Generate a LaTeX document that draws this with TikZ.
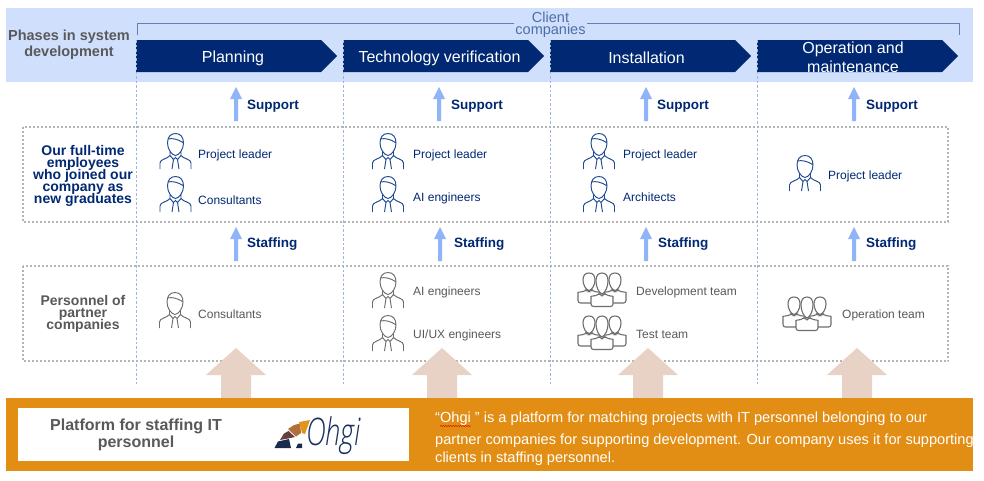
\documentclass[tikz,border=0pt]{standalone}
\usepackage{fontspec}
\setmainfont{Liberation Sans}
\newfontfamily\logofont{Open Sans Light}
\usetikzlibrary{decorations.pathmorphing}
\definecolor{band}{HTML}{D0E0FC}
\definecolor{navy}{HTML}{002873}
\definecolor{iconblue}{HTML}{1F4A94}
\definecolor{icongrey}{HTML}{6E6E6E}
\definecolor{textgrey}{HTML}{595959}
\definecolor{lightarrow}{HTML}{8FB4F7}
\definecolor{pinkarrow}{HTML}{E8D2C6}
\definecolor{orange}{HTML}{E28E14}
\definecolor{dash}{HTML}{9DB5DA}
\definecolor{dots}{HTML}{B4B4B4}
\definecolor{logonavy}{HTML}{1A2B50}
\definecolor{logodark}{HTML}{63403F}
\definecolor{logomid}{HTML}{B0703A}
\definecolor{logoor}{HTML}{E0951F}
\newcommand{\fs}[2]{\fontsize{#1}{#2}\selectfont\lineskiplimit=-20pt }
\tikzset{
  x=1pt,y=-1pt,
  phase/.style={fill=navy,draw=none},
  phasetext/.style={text=white,font=\fs{16}{19},align=center,inner sep=0},
  role/.style={anchor=west,inner sep=0,font=\fs{12}{14}},
  rolein/.style={role,text=navy},
  roleout/.style={role,text=textgrey},
  aid/.style={anchor=west,inner sep=0,text=navy,font=\bfseries\fs{13.5}{16}},
  desc/.style={inner sep=0,anchor=west,text=white,font=\fs{14.6}{16}},
  bigup/.style={fill=pinkarrow,draw=none},
  smallup/.style={fill=lightarrow,draw=none},
  rowbox/.style={draw=dots,line width=2pt,dash pattern=on 2pt off 2pt},
  colline/.style={draw=dash,line width=.7pt,dash pattern=on 2.5pt off 2pt},
  person/.pic={
    \draw[line width=.95pt,pic actions]
      (0,0.5) .. controls (-5,0.5) and (-8,4) .. (-8,10)
      .. controls (-8,16) and (-4,22) .. (0,22.5)
      .. controls (4,22) and (8,16) .. (8,10)
      .. controls (8,4) and (5,0.5) .. (0,0.5)
      (-7.5,6) .. controls (-3,5) and (2,6) .. (7.5,9.5)
      (-15.5,36) -- (-15.5,30) .. controls (-15.5,26) and (-8,26) .. (-5.5,22.5) -- (-5.5,19)
      (15.5,36) -- (15.5,30) .. controls (15.5,26) and (8,26) .. (5.5,22.5) -- (5.5,19)
      (-5.5,22.5) -- (-2,26.5) -- (0,24.5) -- (2,26.5) -- (5.5,22.5)
      (-2,26.5) -- (-3.5,36) (2,26.5) -- (3.5,36);
  },
  crew/.pic={
    \begin{scope}[line width=1.1pt,pic actions,fill=white,rounded corners=2.5pt]
    \foreach \dx in {-13,13}{
      \filldraw[shift={(\dx,0)}]
        (-11,31) -- (-11,23) .. controls (-11,20) and (-6,20) .. (-3,17.5)
        -- (0,20) -- (3,17.5) .. controls (6,20) and (11,20) .. (11,23)
        -- (11,31) -- cycle;
      \filldraw[shift={(\dx,0)},sharp corners]
        (0,1) .. controls (-4,1) and (-6,3.5) .. (-6,8)
        .. controls (-6,13) and (-3,18) .. (0,18.5)
        .. controls (3,18) and (6,13) .. (6,8)
        .. controls (6,3.5) and (4,1) .. (0,1);
    }
    \filldraw
        (-11,34.5) -- (-11,27) .. controls (-11,24) and (-6,24) .. (-3,21)
        -- (0,24.5) -- (3,21) .. controls (6,24) and (11,24) .. (11,27)
        -- (11,34.5) -- cycle;
    \filldraw[sharp corners]
        (0,1) .. controls (-4,1) and (-6,4) .. (-6,9)
        .. controls (-6,15) and (-3,21) .. (0,22)
        .. controls (3,21) and (6,15) .. (6,9)
        .. controls (6,4) and (4,1) .. (0,1);
    \end{scope}
  }
}
\newcommand{\bigarrow}[1]{\fill[bigup] (#1-15,398) -- (#1-15,375) -- (#1-30,375) -- (#1,348) -- (#1+30,375) -- (#1+15,375) -- (#1+15,398) -- cycle;}
\newcommand{\smallarrow}[2]{\fill[smallup] (#1-2,#2+34) -- (#1-2,#2+12) -- (#1-6,#2+12) -- (#1,#2) -- (#1+6,#2+12) -- (#1+2,#2+12) -- (#1+2,#2+34) -- cycle;}
\begin{document}
\begin{tikzpicture}
\useasboundingbox (0,0) rectangle (984,480);
\fill[white] (0,0) rectangle (984,480);
\fill[band] (6,8) rectangle (973,82);

% client bracket
\coordinate (bl) at (137,35); \coordinate (br) at (959,35);
\draw[iconblue!70!white,line width=.7pt] (bl) -- (137,23) -- (959,23) -- (br);
\node[fill=band,inner sep=1pt,text=iconblue!80!white,font=\fs{14.5}{12.5},align=center] (client) at (550.5,24.5) {Client\\companies};

% phases
\foreach \x/\n in {136/a,343/b,550/c,757/d}{\fill[phase] (\x,40) -- (\x+185,40) -- (\x+201,56) -- (\x+185,72) -- (\x,72) -- cycle;}
\node[phasetext] (p1) at (233,58) {Planning};
\node[phasetext] (p2) at (439.5,58) {Technology verification};
\node[phasetext] (p3) at (646.5,58) {Installation};
\node[phasetext] (p4) at (853,57) {Operation and\\maintenance};

% row boxes
\draw[rowbox] (23,126.5) rectangle (948,221.5);
\draw[rowbox] (23,265.5) rectangle (948,361);

% column lines
\foreach \x in {136.5,343.5,550.5,757.5}{\draw[colline] (\x,40) -- (\x,384);}

% small arrows
\foreach \x in {236,439,646,854}{\smallarrow{\x}{87}}
\foreach \x in {236,440,646,854}{\smallarrow{\x}{227}}
\node[aid] (s1) at (247,106.5) {Support};
\node[aid] (s2) at (451,106.5) {Support};
\node[aid] (s3) at (657,106.5) {Support};
\node[aid] (s4) at (866,106.5) {Support};
\node[aid] (t1) at (247,244.5) {Staffing};
\node[aid] (t2) at (454,244.5) {Staffing};
\node[aid] (t3) at (658,244.5) {Staffing};
\node[aid] (t4) at (866,244.5) {Staffing};

% left labels
\node[inner sep=0,align=center,text=textgrey,font=\bfseries\fs{14.5}{16}] (lp) at (69,44.5) {Phases in system\\development};
\node[inner sep=0,align=center,text=navy,font=\bfseries\fs{14}{12}] (lo) at (83,175.5) {Our full-time\\employees\\who joined our\\company as\\new graduates};
\node[inner sep=0,align=center,text=textgrey,font=\bfseries\fs{14}{12}] (lq) at (83,313.5) {Personnel of\\partner\\companies};

% our employees
\foreach \x/\y in {175.5/133,175.5/176,388/133,388/176,599/133,599/176,805/155}{\pic[draw=iconblue] at (\x,\y) {person};}
\node[rolein] (r1) at (198,155) {Project leader};
\node[rolein] (r2) at (198,200.5) {Consultants};
\node[rolein] (r3) at (413,155) {Project leader};
\node[rolein] (r4) at (413,198.5) {AI engineers};
\node[rolein] (r5) at (623,155) {Project leader};
\node[rolein] (r6) at (623,197.5) {Architects};
\node[rolein] (r7) at (828,176) {Project leader};

% partners
\foreach \x/\y in {175/292,388/272,388/315}{\pic[draw=icongrey] at (\x,\y) {person};}
\foreach \x/\y in {602/272,602/315,807/296}{\pic[draw=icongrey] at (\x,\y) {crew};}
\node[roleout] (q1) at (198,314) {Consultants};
\node[roleout] (q2) at (413,292.5) {AI engineers};
\node[roleout] (q3) at (413,335.5) {UI/UX engineers};
\node[roleout] (q4) at (636,292.5) {Development team};
\node[roleout] (q5) at (636,334.5) {Test team};
\node[roleout] (q6) at (842,315.5) {Operation team};

% big arrows
\foreach \x in {236,442,648,857}{\bigarrow{\x}}

% platform
\fill[orange] (6,398) rectangle (973,471);
\fill[white] (18,408) rectangle (409,461);
\node[inner sep=0,align=center,text=textgrey,font=\bfseries\fs{16}{17}] (pl) at (136,435) {Platform for staffing IT\\personnel};
% logo
\fill[logonavy] (274.5,448) -- (278,441.5) -- (289,439) -- (291,448) -- cycle;
\fill[logodark] (280,440) -- (284,433.5) -- (288.5,431) -- (295,437) -- (288,438.5) -- cycle;
\fill[logomid] (288,429) -- (294,425) -- (300,423.5) -- (301,433) -- (296,436.5) -- cycle;
\fill[logoor] (299,422) -- (310,420) -- (305,434) -- (302,433) -- cycle;
\fill[logonavy] (296,448) -- (298,443.5) -- (302,443.5) -- (302,448) -- cycle;
\node[inner sep=0,anchor=west,xscale=.72,text=logonavy!80!iconblue,font=\logofont\itshape\fs{38}{38}] (logo) at (306,436) {Ohgi};

% description
\node[desc] (d1) at (435,419) {“Ohgi ” is a platform for matching projects with IT personnel belonging to our};
\node[desc] (d2) at (435,441) {partner companies for supporting development. Our company uses it for supporting};
\node[desc] (d3) at (435,459) {clients in staffing personnel.};
\draw[red!85!black,line width=.4pt,decorate,decoration={snake,amplitude=.6pt,segment length=2.5pt}] (440,426) -- (471,426);
\end{tikzpicture}
\end{document}
